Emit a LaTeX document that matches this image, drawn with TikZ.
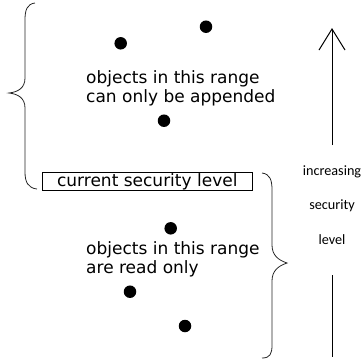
\documentclass[tikz,border=0pt]{standalone}
\usepackage{fontspec}
\setmainfont{DejaVu Sans}
\newfontfamily\labelfont{Carlito}

\begin{document}
\begin{tikzpicture}[x=1pt,y=-1pt,
  obj/.style={circle,fill=black,inner sep=0pt,minimum size=12.5pt},
  rangetext/.style={anchor=base west,inner sep=0pt,font=\fontsize{17}{19.5}\selectfont},
  sidetext/.style={inner sep=0pt,font=\labelfont\fontsize{14.2}{16}\selectfont}]
  \useasboundingbox (0,0) rectangle (363,360);

  % Braces
  \draw[line width=0.8pt,black!85] (35,3) .. controls (27,4) and (25,10) .. (25,20) -- (25,78)
    .. controls (25,88) and (18,92) .. (9,93) .. controls (18,94) and (25,98) .. (25,108)
    -- (25,172) .. controls (25,182) and (28,188) .. (37,189);
  \draw[line width=0.8pt,black!85] (262,173) .. controls (270,174) and (272,180) .. (272,190) -- (272,245)
    .. controls (272,255) and (278,260) .. (287,263) .. controls (278,266) and (272,271) .. (272,281)
    -- (272,345) .. controls (272,354) and (270,358) .. (262,358);

  % Current level
  \node[draw,line width=0.8pt,minimum width=210pt,minimum height=18pt,inner sep=0pt,
    font=\fontsize{17}{19.5}\selectfont] (level) at (147.3,181.7) {current security level};

  % Objects above
  \node[obj] (a1) at (120.7,43.3) {};
  \node[obj] (a2) at (206,26.7) {};
  \node[obj] (a3) at (164,120.7) {};
  \node[rangetext] (app1) at (86,83.3) {objects in this range};
  \node[rangetext] (app2) at (86,102.8) {can only be appended};

  % Objects below
  \node[obj] (r1) at (170.7,228.3) {};
  \node[obj] (r2) at (130,291.7) {};
  \node[obj] (r3) at (185,326) {};
  \node[rangetext] (ro1) at (86,254.3) {objects in this range};
  \node[rangetext] (ro2) at (86,273.5) {are read only};

  % Direction
  \node[sidetext] (inc) at (332,172) {increasing};
  \node[sidetext] (sec) at (332,206) {security};
  \node[sidetext] (lvl) at (332,240) {level};
  \coordinate (up0) at (332,145);
  \coordinate (up1) at (332,29);
  \coordinate (hl) at (319,50);
  \coordinate (hr) at (345,50);
  \coordinate (dn0) at (332,275);
  \coordinate (dn1) at (332,357);
  \draw[line width=1pt] (up0) -- (up1);
  \draw[line width=1pt,line join=miter] (hl) -- (up1) -- (hr);
  \draw[line width=1pt] (dn0) -- (dn1);
\end{tikzpicture}
\end{document}
